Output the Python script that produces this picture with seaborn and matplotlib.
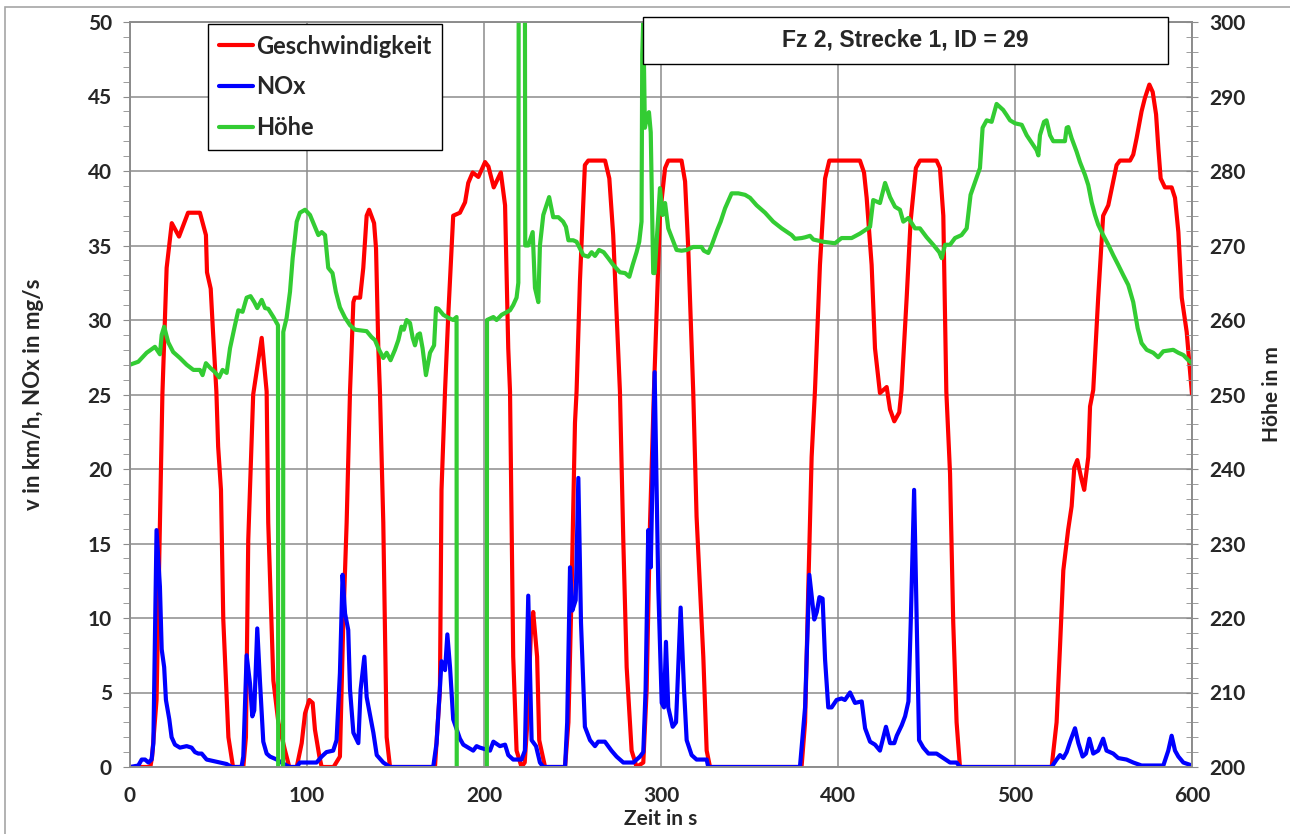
import matplotlib
matplotlib.use("Agg")
import matplotlib.pyplot as plt
from matplotlib.lines import Line2D
from matplotlib.patches import Rectangle
from matplotlib.ticker import MultipleLocator
import seaborn as sns
import pandas as pd

# Geschwindigkeit (km/h)
speed_t = [0, 11.5, 12.5, 15, 18.3, 20.7, 23.6, 27.7, 32.8, 39.5, 42.9, 43.5, 45.6, 46.9, 48.8, 49.8, 51.4, 52.7, 55.6, 58.2,
           64, 65.5, 66.8, 69.6, 74.4, 77.2, 78.1, 81, 83.8, 87.6, 90,
           94.2, 97, 98.9, 101.3, 103.2, 104.5, 107, 108.3,
           115, 118.6, 120.5, 122.4, 124.3, 126.2, 127, 130, 131.8, 133.7, 135.1, 137.9, 139, 140.3, 141.2, 143.1, 145, 146.9,
           172.3, 175.1, 176, 178, 179.8, 182.6, 186.4, 189.3, 191.1, 193.6, 196.8, 200.6, 202.5, 205.5, 209.5, 211.9,
           213.7, 214.7, 216.5, 218.4, 221.2, 223, 224.5, 226.5, 227.8, 230, 231.2, 234.5,
           245.8, 247.7, 249.5, 251.4, 252.3, 254.2, 257, 258.9, 268.4, 270.8, 273, 276.8, 278.7, 280.6, 283.4, 286.2,
           290, 291.9, 293.8, 296, 299.4, 302.3, 304.1, 311.6, 313.6, 315.4, 318.2, 320.1, 323.9, 325.8, 327.7,
           379.4, 381.4, 383.2, 385.1, 387, 389.8, 392.7, 395.1, 412.4, 414.7, 416.2, 419, 420.9, 423.7, 427.5, 429.4,
           431.8, 434.6, 435.9, 438.8, 441, 444, 446.3, 455.7, 457.6, 459.5, 461.2, 463.3, 465.1, 467, 468.9,
           520.7, 523.5, 525.4, 527.3, 530, 532, 533.5, 535.2, 537.6, 539.1, 541.4, 542.4, 544.2, 547, 549.8, 552.7,
           555.5, 557.4, 559.3, 565, 566.8, 568.7, 571.5, 573.4, 575.9, 577.8, 579.7, 581, 582.3, 584.7, 588.5, 590.4,
           592.3, 594.2, 597, 600]
speed_v = [0, 0, 0.7, 4.5, 25, 33.5, 36.5, 35.6, 37.2, 37.2, 35.7, 33.2, 32.1, 29.2, 25.2, 21.5, 18.6, 9.9, 2, 0,
           0, 2, 15.2, 25, 28.8, 25.2, 16.4, 5.8, 3, 1.1, 0,
           0, 1.6, 3.6, 4.5, 4.3, 2.5, 0.7, 0,
           0, 0.7, 9.7, 16.4, 25.2, 31.2, 31.5, 31.5, 33.5, 37, 37.4, 36.5, 34.8, 28.1, 25.2, 16.4, 2, 0,
           0, 5.2, 18.6, 25.3, 30.3, 37, 37.2, 37.9, 39.2, 39.9, 39.6, 40.6, 40.3, 38.9, 39.9, 37.7,
           28.1, 25.2, 7.4, 1.1, 0, 0.3, 3, 9, 10.4, 7.4, 1.8, 0,
           0, 3, 11.9, 23.1, 25.2, 32.6, 40.4, 40.7, 40.7, 39.5, 35.7, 25.2, 15.2, 6.7, 1.1, 0,
           0.3, 5.2, 16.4, 25.2, 37, 40.2, 40.7, 40.7, 39.3, 34.8, 25.2, 16.8, 7.4, 1.1, 0,
           0, 3, 11.9, 20.8, 25.3, 33.7, 39.5, 40.7, 40.7, 39.9, 38.2, 33.7, 28.1, 25.1, 25.5, 24,
           23.2, 23.8, 25.3, 31.5, 36.6, 40.2, 40.7, 40.7, 40.2, 37, 25.2, 19.7, 9.7, 3, 0,
           0, 3, 8, 13.2, 15.9, 17.5, 20.1, 20.6, 19.3, 18.6, 20.8, 24.2, 25.3, 31.5, 37, 37.7,
           39.3, 40.4, 40.7, 40.7, 41.1, 42.2, 44, 44.9, 45.8, 45.3, 43.8, 41.5, 39.5, 38.9, 38.9, 38.2,
           35.9, 31.5, 29.2, 25]

# NOx (mg/s)
nox_t = [0, 4.7, 6.6, 8.5, 10.4, 12.2, 13.2, 15, 16.9, 17.9, 19.3, 20.3, 22.2, 23.5, 25.4, 28.2, 32, 34.8, 36.7,
         38.6, 40.5, 43.3, 47.1, 50.8, 54.6, 57.4, 63, 64, 65.9, 67.8, 69.1, 70.2, 71.9, 73.4, 75.3, 77.2, 79.1,
         82.9, 85.6, 88.5, 90.4, 94.2, 96, 105.4, 108.3, 111, 114.8, 116.7, 118.6, 120.1, 121.5, 123.3, 124.3,
         126.2, 129, 130.3, 132.4, 133.7, 137.5, 139.4, 143.1, 146.9, 171.3, 173.2, 176, 178, 179.3, 180.8, 182.6,
         186.4, 188.3, 193.9, 195.8, 197.7, 203.4, 205.3, 209, 211.9, 213.7, 216.5, 221.2, 223.1, 225, 226.9,
         229.4, 231.6, 233.5, 245.8, 247, 248.6, 249.9, 251.8, 253.3, 254.8, 257, 259.9, 262.7, 264.5, 268.3,
         272, 274.9, 278.7, 284.4, 288.1, 290, 291.3, 292.8, 294.2, 296.4, 298.5, 300.4, 301.7, 302.8, 304.1,
         306.6, 308.5, 311.1, 313, 314.5, 317.3, 320.1, 325.8, 326.7, 378.5, 381.4, 383.8, 386.6, 388, 389.5,
         391.3, 392.7, 394.5, 396.4, 399.2, 402, 403.9, 406.8, 409.6, 413.4, 415.3, 418.1, 420.9, 423.7, 427.1,
         429.4, 431.8, 433.2, 436, 437.9, 439.8, 441.1, 443, 444.5, 445.8, 448.2, 451.1, 455.7, 459.5, 463.3,
         467, 468.9, 520.7, 523.5, 525.4, 527.3, 529.2, 531.1, 533.9, 535.8, 538.2, 540.1, 542, 544.2, 547,
         549.8, 551.7, 555.5, 558.3, 563, 566.8, 571.5, 583.8, 586.6, 588.5, 590.4, 592.3, 595.1, 600]
nox_v = [0, 0.1, 0.5, 0.5, 0.3, 0.5, 1.6, 15.9, 12.1, 7.9, 6.7, 4.5, 3.2, 2, 1.5, 1.3, 1.4, 1.3, 1,
         0.9, 0.9, 0.5, 0.4, 0.3, 0.2, 0, 0, 0.7, 7.5, 5.6, 3.4, 3.8, 9.3, 5.8, 1.7, 0.9, 0.7,
         0.5, 0.3, 0.1, 0, 0, 0.3, 0.3, 0.7, 1, 1.1, 1.8, 6.3, 12.9, 10.3, 9.2, 5.2,
         2.3, 1.6, 5.2, 7.4, 4.7, 2.3, 0.8, 0.3, 0, 0, 1.6, 7.1, 6.5, 8.9, 6.7, 3.2,
         1.9, 1.5, 1.1, 1.4, 1.3, 1.1, 1.7, 1.4, 1.5, 0.8, 0.5, 0.5, 1.1, 11.5, 1.8,
         1.4, 0.3, 0, 0, 3, 13.4, 10.5, 11.2, 19.4, 9.7, 2.7, 1.8, 1.4, 1.7, 1.7,
         1.1, 0.7, 0.3, 0.3, 0.7, 1, 5.2, 15.9, 13.4, 26.5, 11.9, 4.3, 4, 8.4, 4,
         2.7, 3, 10.7, 5.2, 1.8, 0.8, 0.5, 0.5, 0, 0, 4, 12.9, 9.9, 10.4, 11.4,
         11.3, 7.2, 4, 4, 4.5, 4.6, 4.5, 5, 4.3, 4.4, 2.6, 1.7, 1.5, 1.1, 2.7,
         1.6, 1.6, 2.1, 2.8, 3.4, 4.4, 9.7, 18.6, 9.7, 1.8, 1.3, 0.9, 0.9, 0.6, 0.3,
         0.3, 0, 0, 0.5, 0.8, 0.6, 1, 1.7, 2.6, 1.6, 0.7, 0.9, 1.9, 0.9, 1.1,
         1.9, 1.1, 0.9, 0.6, 0.5, 0.3, 0.1, 0.1, 1.1, 2.1, 1.1, 0.7, 0.3, 0.1]

# Hoehe (m), right axis; 0 and 400 are the GPS dropouts that leave the scale
hoehe_t = [0, 4.7, 9.4, 14.1, 16.9, 17.9, 19.3, 21.6, 24.4, 28.2, 32, 35.8, 39.5, 41, 42.9, 45.2, 48, 50.4, 52.3,
           54.6, 56.5, 59.3, 61.2, 63.6, 65.9, 68.1, 70.2, 71.9, 74.4, 76.3, 78.1, 81, 83.6, 84.1, 86.1, 86.6,
           88.5, 90.4, 91.9, 94.2, 96, 98.9, 101.7, 104.5, 106.4, 108.3, 110.2, 112, 114.4, 116.3, 118.6, 121.5,
           124.3, 127.1, 133.7, 136.5, 138.4, 140.3, 143.1, 145, 147.2, 149.7, 151.6, 153.4, 154.7, 156.3, 158.2,
           159.7, 161, 162.5, 163.8, 165.3, 167.2, 169.5, 171.8, 172.9, 174.2, 177, 179.8, 182.6, 184.5, 184.9,
           201.3, 201.7, 205.3, 207.1, 210, 214.7, 216.5, 218.4, 219.4, 220.1, 222.6, 223.3, 225, 227.5, 228.8,
           230.7, 231.6, 233.5, 236.8, 239.1, 242, 244.7, 246.3, 247.7, 250.4, 252.3, 256.1, 258.9, 260.8, 262.7,
           265, 267.6, 270.2, 273, 276.8, 279.7, 282.1, 284, 286.2, 287.7, 289, 289.4, 290, 290.9, 292.3, 293.2,
           294.2, 295.6, 296.4, 298.5, 299.4, 300.9, 302.3, 304.1, 307, 308.8, 311.6, 314.5, 318.2, 322.9, 324.2,
           326.7, 328.6, 331.8, 333.7, 336.2, 339.9, 343.7, 347.5, 350.3, 354, 358.8, 363.4, 368.2, 373.8, 375.7,
           379.5, 381.4, 384.2, 386.1, 391.7, 398.3, 402, 407.7, 412.4, 418.1, 419.9, 423.7, 426.6, 429.4, 432.2,
           435, 436.9, 439.8, 443.5, 446.3, 450.1, 453.8, 457.2, 458.6, 460.5, 463.3, 466.1, 469.8, 472.7, 474.9,
           477.4, 480.2, 481.7, 484, 486.8, 489.6, 493.3, 495.3, 497.2, 500, 503.8, 506.6, 509.4, 512.2, 513.2,
           514.1, 516.4, 517.8, 519.8, 521.6, 528.2, 529.2, 530.1, 532, 534.8, 536.7, 539.5, 541.4, 543.3, 545.2,
           547, 549.8, 552.7, 555.5, 558.3, 561.2, 564, 566.8, 569.3, 571.5, 574.4, 578.1, 580.9, 583.8, 589.4,
           592.3, 595.1, 597.9, 600]
hoehe_v = [254, 254.4, 255.6, 256.4, 255.4, 258, 259.1, 257, 255.7, 254.9, 254, 253.3, 253.3, 252.6, 254.2, 253.6, 253, 252.3, 253.3,
           252.9, 256.2, 259.3, 261.3, 261.1, 263, 263.2, 262.4, 261.6, 262.7, 261.6, 261.5, 260.4, 259.3, 0, 0, 258.4,
           260.3, 263.8, 268.3, 273.2, 274.4, 274.8, 274.1, 272.5, 271.4, 271.8, 271.4, 267, 266.3, 263.8, 261.7, 260.3,
           259.3, 258.7, 258.5, 257.7, 257.3, 256.2, 254.9, 255.6, 254.6, 256, 257.3, 259.1, 258.7, 260, 259.6,
           257.6, 256.6, 258, 258.2, 256.2, 252.6, 255.6, 256.6, 261.6, 261.5, 260.7, 260.3, 260, 260.4, 0,
           0, 260, 260.4, 260, 260.7, 261.3, 262, 263, 265, 400, 400, 270, 270, 271.8, 264.3,
           262.4, 270, 274.1, 276.5, 273.8, 273.8, 273.2, 272.5, 270.7, 270.7, 270.5, 268.7, 268.5, 269.1, 268.6,
           269.4, 269.1, 268.3, 267.4, 266.4, 266.3, 265.8, 267.4, 269.1, 270.5, 273.2, 295.6, 300.5, 285.8, 287.5, 287.9,
           285.2, 266.3, 266.3, 274.1, 277.7, 274.1, 275.7, 272.3, 270.5, 269.4, 269.3, 269.4, 269.8, 269.8, 269.3,
           269, 270, 272.1, 273.2, 275, 277, 277, 276.8, 276.4, 275.4, 274.4, 273.2, 272.3, 271.4, 270.9,
           271, 271.1, 271.3, 270.8, 270.5, 270.3, 271, 271, 271.6, 272.5, 276.1, 275.7, 278.4, 276.5, 275.2,
           274.8, 273.2, 273.7, 272.3, 272.3, 271.1, 270.1, 269.1, 268.3, 270.1, 270.1, 271, 271.4, 272.3, 276.8,
           278.5, 280.4, 285.8, 286.8, 286.6, 289, 288.2, 287.5, 286.8, 286.4, 286.2, 284.8, 283.8, 282.8, 282.1,
           284.8, 286.6, 286.8, 284.8, 284, 284, 285.8, 285.9, 284.4, 282.6, 281.2, 279.5, 278.1, 275.8, 274.1,
           272.8, 271.4, 270.1, 268.7, 267.4, 266, 264.7, 262.4, 258.9, 256.9, 256, 255.6, 255, 255.8, 256,
           255.6, 255.3, 254.6, 254.2]

series_labels = ["Geschwindigkeit", "NOx", "Höhe"]
series_colors = ["#ff0000", "#0000ff", "#33cc33"]
title_text = "Fz 2, Strecke 1, ID = 29"

sns.set_style("white")
plt.rcParams["font.family"] = ["Lato", "DejaVu Sans"]
plt.rcParams["font.weight"] = "bold"
plt.rcParams["axes.labelweight"] = "bold"

speed_df = pd.DataFrame({"t": speed_t, "v": speed_v})
nox_df = pd.DataFrame({"t": nox_t, "v": nox_v})
hoehe_df = pd.DataFrame({"t": hoehe_t, "h": hoehe_v})

fig = plt.figure(figsize=(12.9, 8.34), dpi=100)
# thin grey chart-area frame, slightly inset like the Excel export
fig.add_artist(Rectangle((5 / 1290, -0.02), 1.1, 1.02 - 7 / 834, transform=fig.transFigure,
                         facecolor="none", edgecolor="#a6a6a6", lw=1.2, zorder=0))
ax = fig.add_axes([130 / 1290, 1 - 767 / 834, 1062 / 1290, 745 / 834])
ax2 = ax.twinx()

line_kw = dict(estimator=None, sort=False, lw=3, solid_joinstyle="round")
sns.lineplot(data=speed_df, x="t", y="v", color=series_colors[0], ax=ax, **line_kw)
sns.lineplot(data=nox_df, x="t", y="v", color=series_colors[1], ax=ax, **line_kw)
sns.lineplot(data=hoehe_df, x="t", y="h", color=series_colors[2], ax=ax2, **line_kw)

ax.set_xlim(0, 600)
ax.set_ylim(0, 50)
ax2.set_ylim(200, 300)
ax.xaxis.set_major_locator(MultipleLocator(100))
ax.xaxis.set_minor_locator(MultipleLocator(20))
ax.yaxis.set_major_locator(MultipleLocator(5))
ax.yaxis.set_minor_locator(MultipleLocator(1))
ax2.yaxis.set_major_locator(MultipleLocator(10))
ax2.yaxis.set_minor_locator(MultipleLocator(2))

grid_col = "#8c8c8c"
ax.set_axisbelow(True)
ax.grid(True, which="major", color=grid_col, lw=1.1)
ax2.grid(False)
for a in (ax, ax2):
    for sp in a.spines.values():
        sp.set_color(grid_col)
        sp.set_linewidth(1.2)

ax.tick_params(axis="x", which="both", direction="out", color=grid_col, labelsize=15, pad=8)
ax.tick_params(axis="x", which="major", length=6)
ax.tick_params(axis="x", which="minor", length=5)
ax.tick_params(axis="y", which="both", direction="out", color=grid_col, labelsize=15, pad=8, length=5)
ax2.tick_params(axis="y", which="both", direction="inout", color=grid_col, labelsize=15, pad=8, length=9)

ax.set_xlabel("Zeit in s", fontsize=15)
ax.set_ylabel("v in km/h, NOx in mg/s", fontsize=16)
ax2.set_ylabel("Höhe in m", fontsize=15)
ax.xaxis.set_label_coords(0.5, -0.056)
ax.yaxis.set_label_coords(-0.081, 0.5)
ax2.yaxis.set_label_coords(1.066, 0.5)

handles = [Line2D([], [], color=c, lw=3) for c in series_colors]
leg = ax2.legend(handles, series_labels, loc="upper left", bbox_to_anchor=(0.0734, 0.9973),
                 borderaxespad=0, fontsize=17, handlelength=1.45, handletextpad=0.12,
                 labelspacing=0.75, borderpad=0.45, fancybox=False, framealpha=1)
leg.get_frame().set_edgecolor("black")
leg.get_frame().set_linewidth(1.0)
leg.set_zorder(10)

fig.add_artist(Rectangle((643 / 1290, 1 - 64 / 834), 525 / 1290, 47 / 834, transform=fig.transFigure,
                         facecolor="white", edgecolor="black", lw=1.0, zorder=20))
fig.text(905.5 / 1290, 1 - 40.5 / 834, title_text, ha="center", va="center", fontsize=16.5,
         family="Liberation Sans", fontweight="bold", zorder=21)

fig.savefig("out.png", dpi=100)
